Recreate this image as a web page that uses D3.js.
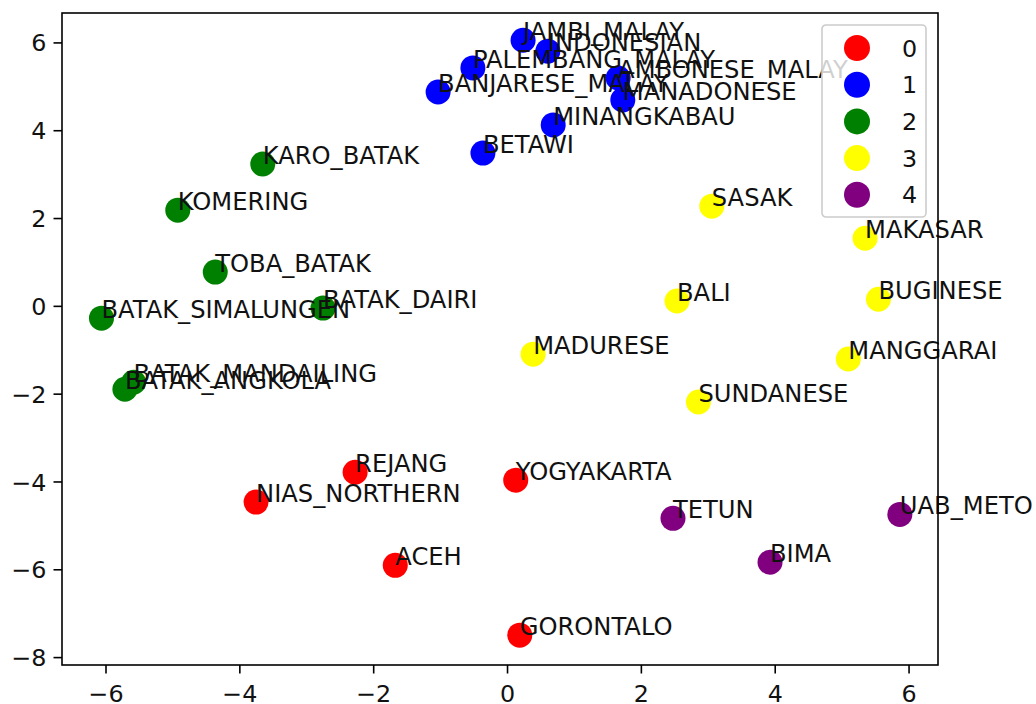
<!DOCTYPE html>
<html>
<head>
<meta charset="utf-8">
<script src="https://cdn.jsdelivr.net/npm/d3@7"></script>
<style>
  body { margin: 0; background: #fff; }
  text { font-family: "DejaVu Sans", sans-serif; }
</style>
</head>
<body>
<div class="canvas"></div>
<script>
// cluster scatter of languages (2d embedding)
const labels = ['REJANG', 'NIAS_NORTHERN', 'ACEH', 'YOGYAKARTA', 'GORONTALO',
  'JAMBI_MALAY', 'INDONESIAN', 'PALEMBANG_MALAY', 'BANJARESE_MALAY', 'AMBONESE_MALAY', 'MANADONESE', 'MINANGKABAU', 'BETAWI',
  'KARO_BATAK', 'KOMERING', 'TOBA_BATAK', 'BATAK_DAIRI', 'BATAK_SIMALUNGEN', 'BATAK_MANDAILING', 'BATAK_ANGKOLA',
  'SASAK', 'MAKASAR', 'BALI', 'BUGINESE', 'MADURESE', 'MANGGARAI', 'SUNDANESE',
  'TETUN', 'UAB_METO', 'BIMA'];
const xValues = [-2.27, -3.75, -1.67, 0.13, 0.19,
  0.24, 0.61, -0.51, -1.03, 1.66, 1.73, 0.69, -0.36,
  -3.65, -4.92, -4.36, -2.75, -6.06, -5.58, -5.71,
  3.06, 5.35, 2.54, 5.55, 0.39, 5.10, 2.86,
  2.48, 5.87, 3.93];
const yValues = [-3.79, -4.47, -5.91, -3.97, -7.50,
  6.05, 5.80, 5.42, 4.87, 5.19, 4.69, 4.12, 3.48,
  3.23, 2.18, 0.77, -0.05, -0.28, -1.74, -1.90,
  2.27, 1.54, 0.11, 0.15, -1.10, -1.21, -2.19,
  -4.84, -4.75, -5.84];
const clusters = [0, 0, 0, 0, 0,
  1, 1, 1, 1, 1, 1, 1, 1,
  2, 2, 2, 2, 2, 2, 2,
  3, 3, 3, 3, 3, 3, 3,
  4, 4, 4];
const clusterNames = ['0', '1', '2', '3', '4'];
const xTicks = [-6, -4, -2, 0, 2, 4, 6];
const yTicks = [-8, -6, -4, -2, 0, 2, 4, 6];

const colours = ['red', 'blue', 'green', 'yellow', 'purple'];

const dims = { width: 1036, height: 704 };
const margin = { left: 62, right: 98, top: 13, bottom: 39 };
const fontSize = 24.2;
const tickFont = 23.8;

const data = labels.map((name, i) => ({ name, x: xValues[i], y: yValues[i], c: clusters[i] }));

const svg = d3.select('.canvas').append('svg')
  .attr('width', dims.width)
  .attr('height', dims.height);

const x = d3.scaleLinear()
  .domain([-6.65, 6.44])
  .range([margin.left, dims.width - margin.right]);

const y = d3.scaleLinear()
  .domain([-8.18, 6.67])
  .range([dims.height - margin.bottom, margin.top]);

const colour = d3.scaleOrdinal().domain(d3.range(5)).range(colours);

// points, one cluster after the other like the original
const pts = svg.append('g');
clusterNames.forEach((c, ci) => {
  pts.selectAll(null)
    .data(data.filter(d => d.c === ci))
    .enter().append('circle')
    .attr('cx', d => x(d.x))
    .attr('cy', d => y(d.y))
    .attr('r', 12.5)
    .attr('fill', colour(ci));
});

// annotations: left aligned, baseline on the point
svg.append('g').selectAll('text')
  .data(data)
  .enter().append('text')
  .attr('x', d => x(d.x))
  .attr('y', d => y(d.y))
  .attr('font-size', fontSize)
  .attr('fill', '#111')
  .text(d => d.name);

// axes
const xAxis = d3.axisBottom(x).tickValues(xTicks).tickSize(8.5).tickPadding(7)
  .tickFormat(d => d < 0 ? '\u2212' + Math.abs(d) : d);
const yAxis = d3.axisLeft(y).tickValues(yTicks).tickSize(8.5).tickPadding(7)
  .tickFormat(d => d < 0 ? '\u2212' + Math.abs(d) : d);

const xg = svg.append('g')
  .attr('transform', `translate(0, ${dims.height - margin.bottom})`)
  .call(xAxis);
const yg = svg.append('g')
  .attr('transform', `translate(${margin.left}, 0)`)
  .call(yAxis);

[xg, yg].forEach(g => {
  g.select('.domain').remove();
  g.selectAll('line').attr('stroke', '#000').attr('stroke-width', 1.6);
  g.selectAll('text').attr('font-size', tickFont).attr('fill', '#111')
    .attr('font-family', '"DejaVu Sans", sans-serif');
});
yg.selectAll('text').attr('dy', '0.36em');
xg.selectAll('text').attr('dy', '0.9em');

// frame
svg.append('rect')
  .attr('x', margin.left)
  .attr('y', margin.top)
  .attr('width', dims.width - margin.right - margin.left)
  .attr('height', dims.height - margin.bottom - margin.top)
  .attr('fill', 'none')
  .attr('stroke', '#000')
  .attr('stroke-width', 1.6);

// legend
const legendGroup = svg.append('g')
  .attr('transform', 'translate(822, 25)');

legendGroup.append('rect')
  .attr('width', 104)
  .attr('height', 192)
  .attr('rx', 4)
  .attr('fill', 'white')
  .attr('fill-opacity', 0.8)
  .attr('stroke', '#cccccc')
  .attr('stroke-width', 1.6);

const items = legendGroup.selectAll('g.item')
  .data(clusterNames)
  .enter().append('g')
  .attr('class', 'item')
  .attr('transform', (d, i) => `translate(0, ${23 + i * 36.7})`);

items.append('circle')
  .attr('cx', 35)
  .attr('r', 13)
  .attr('fill', (d, i) => colour(i));

items.append('text')
  .attr('x', 80)
  .attr('dy', '0.36em')
  .attr('font-size', tickFont)
  .attr('fill', '#111')
  .text(d => d);
</script>
</body>
</html>
